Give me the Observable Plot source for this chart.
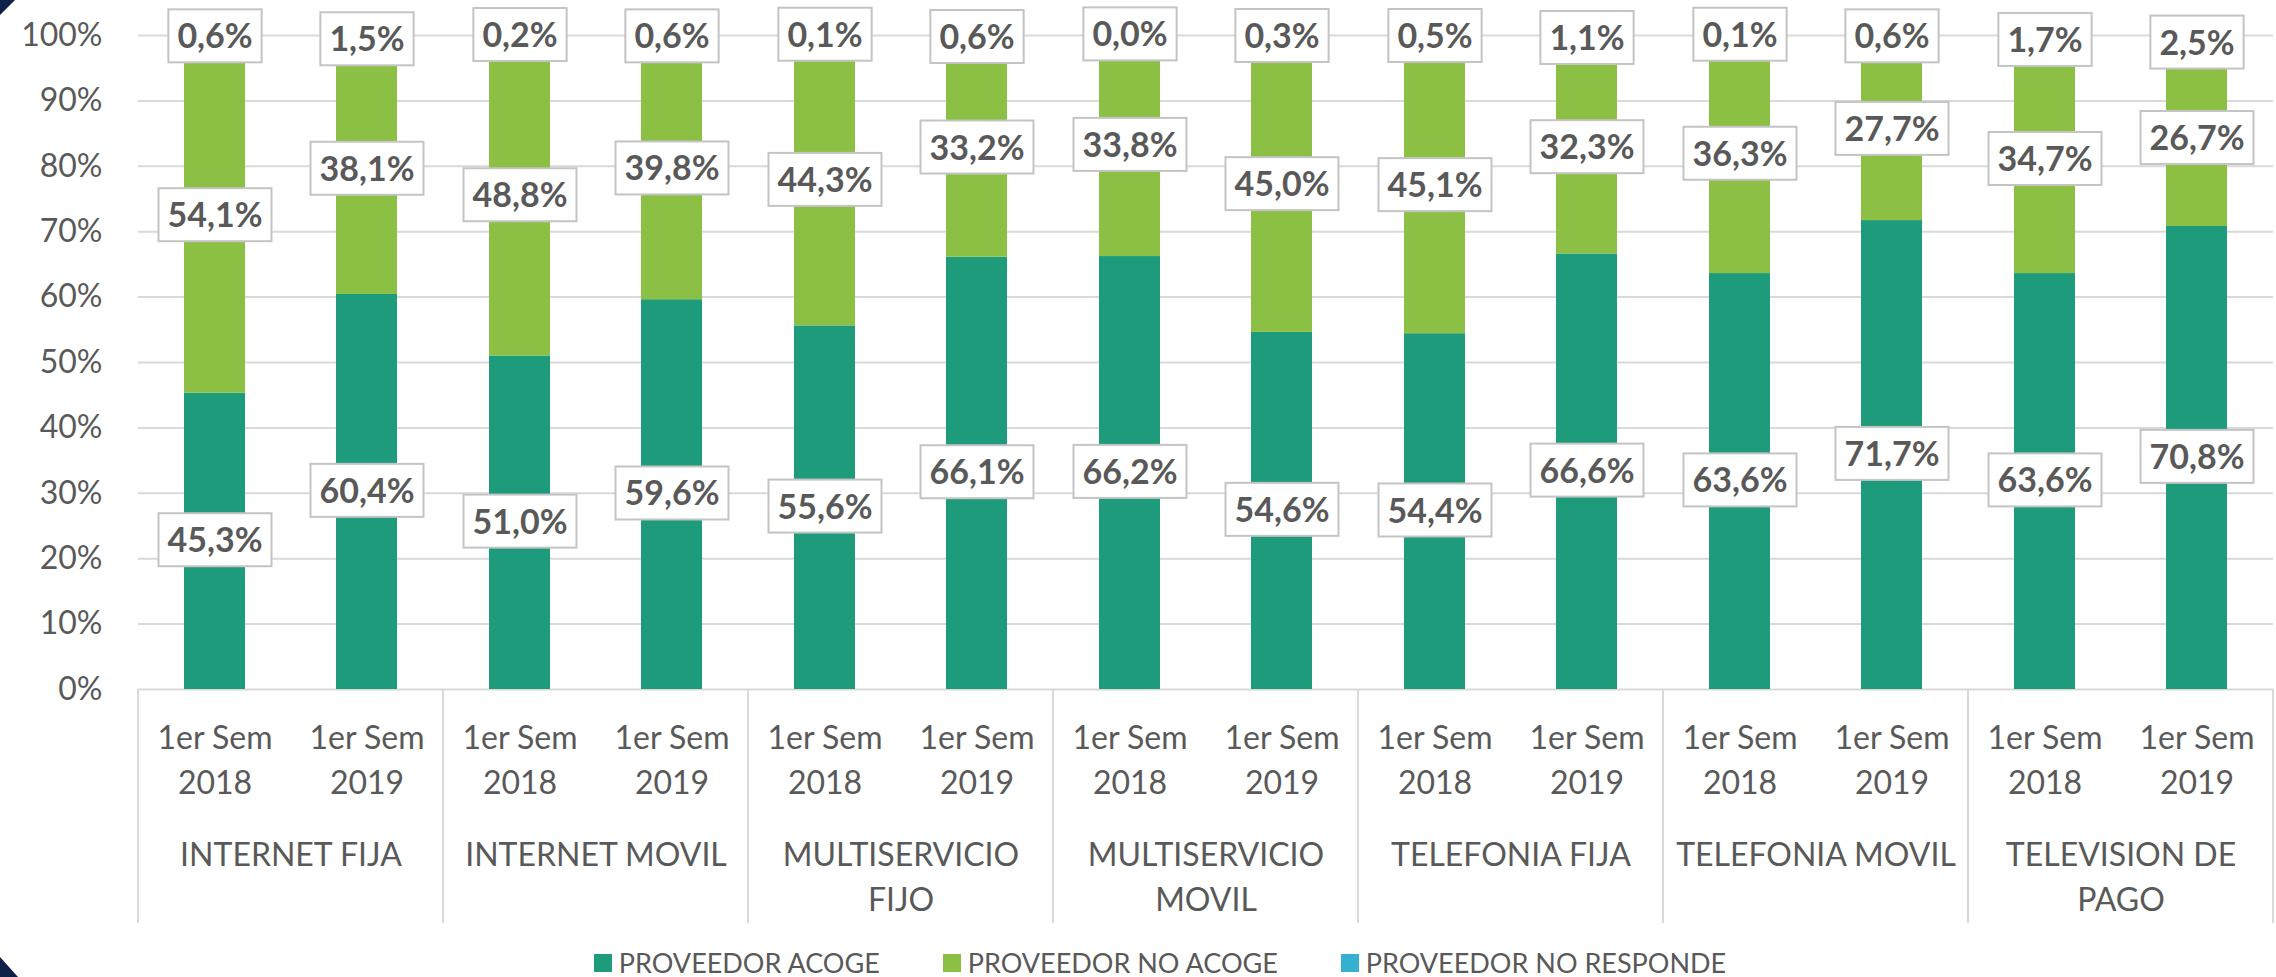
<!DOCTYPE html>
<html>
<head>
<meta charset="utf-8">
<script src="https://cdn.jsdelivr.net/npm/d3@7"></script>
<script src="https://cdn.jsdelivr.net/npm/@observablehq/plot@0.6"></script>
<style>
  html, body { margin: 0; padding: 0; background: #fff; }
  #wrap { position: relative; width: 2276px; height: 977px; font-family: Lato, "Open Sans", sans-serif; }
  #legend { display: flex; justify-content: center; align-items: center; gap: 63px; padding-left: 44px;
            height: 40px; box-sizing: border-box; padding-top: 12px; font-size: 27px; line-height: 22px; color: #595959; }
  #legend .item { display: flex; align-items: center; gap: 7px; }
  #legend .sw { width: 18px; height: 18px; display: inline-block; }
  .tri { position: absolute; width: 0; height: 0; }
</style>
</head>
<body>
<div id="wrap">
  <div id="chart"></div>
  <div id="legend"></div>
  <div class="tri" style="left:0;top:0;border-top:15px solid #0F2147;border-right:15px solid transparent;"></div>
  <div class="tri" style="left:0;bottom:0;border-bottom:20px solid #0F2147;border-right:18px solid transparent;"></div>
</div>
<script>
// ---- data ----
const groups = ["INTERNET FIJA", "INTERNET MOVIL", "MULTISERVICIO FIJO", "MULTISERVICIO MOVIL", "TELEFONIA FIJA", "TELEFONIA MOVIL", "TELEVISION DE PAGO"];
const groupLabels = ["INTERNET FIJA", "INTERNET MOVIL", "MULTISERVICIO\nFIJO", "MULTISERVICIO\nMOVIL", "TELEFONIA FIJA", "TELEFONIA MOVIL", "TELEVISION DE\nPAGO"];
const periods = ["1er Sem\n2018", "1er Sem\n2019"];
const series = ["PROVEEDOR ACOGE", "PROVEEDOR NO ACOGE", "PROVEEDOR NO RESPONDE"];
const colors = ["#1E9B7A", "#8CC045", "#35B0D1"];
// values in order: group1-2018, group1-2019, group2-2018, ...
const acoge      = [45.3, 60.4, 51.0, 59.6, 55.6, 66.1, 66.2, 54.6, 54.4, 66.6, 63.6, 71.7, 63.6, 70.8];
const noAcoge    = [54.1, 38.1, 48.8, 39.8, 44.3, 33.2, 33.8, 45.0, 45.1, 32.3, 36.3, 27.7, 34.7, 26.7];
const noResponde = [0.6, 1.5, 0.2, 0.6, 0.1, 0.6, 0.0, 0.3, 0.5, 1.1, 0.1, 0.6, 1.7, 2.5];
const yTicks = [0, 10, 20, 30, 40, 50, 60, 70, 80, 90, 100];

// ---- table ----
const fmt = d3.formatLocale({decimal: ",", thousands: ".", grouping: [3], currency: ["", ""]}).format(".1f");
const seriesValues = [acoge, noAcoge, noResponde];
const rows = [];
const base = new Array(acoge.length).fill(0);
series.forEach((s, si) => {
  seriesValues[si].forEach((v, i) => {
    const y1 = base[i], y2 = base[i] + v;
    base[i] = y2;
    rows.push({
      series: s,
      group: groups[Math.floor(i / 2)],
      period: periods[i % 2],
      value: v, y1, y2, mid: (y1 + y2) / 2,
      label: fmt(v) + "%"
    });
  });
});

const textColor = "#595959";
const plot = Plot.plot({
  width: 2276,
  height: 937,
  marginLeft: 135,
  marginRight: 0,
  marginTop: 35,
  marginBottom: 248,
  style: {fontFamily: "Lato, 'Open Sans', sans-serif", fontSize: "32px", color: textColor, background: "white", overflow: "visible"},
  fx: {domain: groups, padding: 0},
  x: {domain: periods, paddingInner: 0.6, paddingOuter: 0.3},
  y: {domain: [0, 100]},
  color: {domain: series, range: colors},
  marks: [
    Plot.gridY(yTicks, {stroke: "#D9D9D9", strokeOpacity: 1, strokeWidth: 2}),
    Plot.barY(rows, {fx: "group", x: "period", y1: "y1", y2: "y2", fill: "series"}),
    Plot.axisY(yTicks, {tickFormat: d => d + "%", tickSize: 0, tickPadding: 36, fontSize: 32, label: null}),
    Plot.axisX({tickSize: 0, tickPadding: 28, lineHeight: 1.4, fontSize: 32, label: null}),
    Plot.axisFx({anchor: "bottom", tickSize: 0, tickPadding: 145, lineHeight: 1.4, fontSize: 32, label: null,
                 tickFormat: g => groupLabels[groups.indexOf(g)]}),
    Plot.text(rows, {fx: "group", x: "period", y: "mid", text: "label", fontWeight: "bold", fontSize: 34,
                     fill: textColor, className: "barlbl"})
  ]
});

document.getElementById("chart").append(plot);

// separators of the group axis, from the library's scales
const fxs = plot.scale("fx"), ys = plot.scale("y");
const svg = d3.select(plot);
const y0 = ys.apply(0);
const sepG = svg.append("g");
const edges = groups.map(g => fxs.apply(g));
edges.push(fxs.apply(groups[groups.length - 1]) + fxs.bandwidth);
edges.forEach(x => {
  sepG.append("line")
    .attr("x1", x).attr("x2", x)
    .attr("y1", y0).attr("y2", y0 + 234)
    .attr("stroke", "#D9D9D9").attr("stroke-width", 2);
});

// boxes behind data labels
svg.selectAll("g.barlbl text").each(function() {
  const b = this.getBBox();
  const cy = b.y + b.height / 2 + 1;
  d3.select(this.parentNode).insert("rect", () => this)
    .attr("transform", this.getAttribute("transform"))
    .attr("x", b.x - 9).attr("y", cy - 26.5)
    .attr("width", b.width + 18).attr("height", 53)
    .attr("fill", "white").attr("stroke", "#C4C4C4").attr("stroke-width", 2);
});

// legend
const legend = d3.select("#legend");
series.forEach((s, i) => {
  const it = legend.append("div").attr("class", "item");
  it.append("span").attr("class", "sw").style("background", colors[i]);
  it.append("span").text(s);
});
</script>
</body>
</html>
